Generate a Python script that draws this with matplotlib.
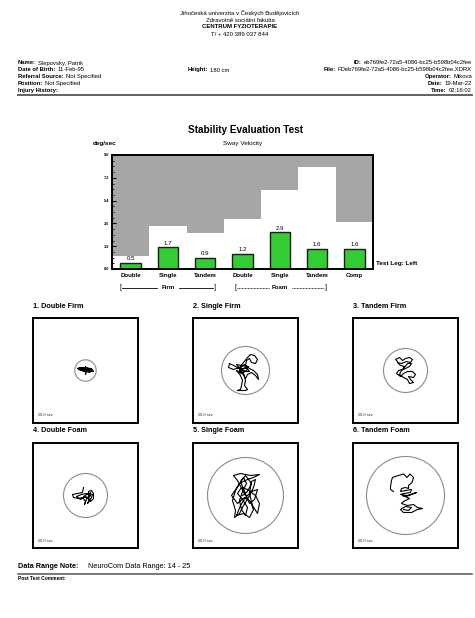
"""
Stability Evaluation Test report page (sway velocity + stabilograms).
"""

import matplotlib
matplotlib.use("Agg")
import matplotlib.pyplot as plt
from matplotlib.patches import Circle
import numpy as np

plt.rcParams["font.family"] = ["Liberation Sans", "DejaVu Sans"]

W, H = 475, 618

# ---- data ----
header_lines = [
    "Jihočeská univerzita v Českých Budějovicích",
    "Zdravotně sociální fakulta",
    "CENTRUM FYZIOTERAPIE",
    "T/ + 420 389 037 844",
]
left_info = [
    ("Name:", "Slepovsky, Patrik"),
    ("Date of Birth:", "11-Feb-95"),
    ("Referral Source:", "Not Specified"),
    ("Position:", "Not Specified"),
    ("Injury History:", ""),
]
right_info = [
    ("ID:", "eb769fe2-72a5-4086-bc25-b598b04c2fee"),
    ("File:", "FDeb769fe2-72a5-4086-bc25-b598b04c2fee.XDRX"),
    ("Operator:", "Mikova"),
    ("Date:", "19-Mar-22"),
    ("Time:", "02:16:02"),
]
height_info = ("Height:", "180 cm")

categories = ["Double", "Single", "Tandem", "Double", "Single", "Tandem", "Comp"]
sway_velocity = [0.5, 1.7, 0.9, 1.2, 2.9, 1.6, 1.6]
norm_limit = [1.03, 3.39, 2.82, 3.92, 6.24, 8.08, 3.71]
y_ticks = [0.0, 1.8, 3.6, 5.4, 7.2, 9.0]

panel_titles = ["1. Double Firm", "2. Single Firm", "3. Tandem Firm",
                "4. Double Foam", "5. Single Foam", "6. Tandem Foam"]
limit_radius = [10.7, 24, 22, 22, 38, 39]

# sway traces (pixel offsets from the circle centre, y up)
trace_1 = [(-8, 2), (-5, 3), (-2, 2), (1, 3), (4, 2), (7, 1), (8, -1), (5, -1), (2, 0),
           (-1, -1), (-4, 0), (-7, 1), (-6, 3), (-3, 1), (0, 2), (3, 0), (6, 0), (4, -2),
           (1, -1), (0, -4), (0, -1), (-3, 0), (-6, 2), (-2, 3), (2, 1), (5, 1), (3, -1),
           (0, 1), (-4, 2), (-7, 2), (-3, 0), (1, 1), (4, 0), (6, 2), (2, 2), (-1, 0),
           (0, 4), (0, 0), (-5, 1)]
trace_2 = [(-3, 0), (-10, 4), (-16, 7), (-17, 3), (-12, 1), (-6, 3), (-2, 8), (2, 13), (5, 16),
           (9, 15), (12, 11), (10, 7), (6, 8), (4, 12), (1, 10), (0, 5), (4, 2), (8, 0), (12, -4),
           (13, -9), (10, -5), (6, -2), (2, -4), (0, -8), (-2, -4), (-6, -2), (-9, 0), (-5, -5),
           (-3, -10), (-4, -15), (-5, -19), (-8, -20), (0, -20), (2, -19), (-1, -15), (0, -10),
           (-2, -3), (-6, 1), (-1, 2), (3, 4), (-4, 5), (-9, 6), (-5, 1), (0, -1), (4, -1),
           (1, 3), (-3, 2), (-7, -1), (-2, -2), (2, 1), (-1, 6), (-5, 3), (-1, -1)]
trace_3 = [(-8, 9), (-10, 11), (-6, 13), (-3, 10), (0, 12), (4, 13), (7, 11), (5, 8), (1, 9),
           (-4, 7), (-8, 8), (-5, 5), (-1, 4), (-3, 1), (-7, 0), (-9, -3), (-5, -6), (-2, -3),
           (2, -1), (7, -1), (10, -4), (8, -7), (3, -6), (5, -9), (8, -12), (4, -13), (2, -9),
           (-2, -7), (-6, -4), (-4, 0), (0, 2), (4, 4), (6, 7), (2, 7), (-2, 2)]
trace_4 = [(-2, 8), (-3, 3), (-8, 2), (-13, 1), (-12, -2), (-7, -3), (-3, -2), (0, -6),
           (-1, -9), (1, -4), (3, -1), (3, 4), (6, 5), (8, 2), (8, -3), (5, -6), (3, -3),
           (5, 0), (1, 2), (-4, 1), (-9, -1), (-5, -4), (0, -1), (4, -4), (2, -8), (6, -2),
           (7, 1), (3, 2), (-2, -1), (2, -3), (5, 3)]
trace_5 = [(0, 0), (-8, 15), (-12, 20), (-5, 22), (5, 20), (14, 21), (8, 18), (2, 16), (-6, 12),
           (-10, 5), (-13, -5), (-10, -15), (-11, -22), (-6, -18), (-2, -10), (3, -2), (8, 8),
           (10, 16), (6, 14), (4, 2), (7, -10), (12, -18), (14, -8), (10, 0), (2, 6), (-4, 8),
           (-8, 2), (-3, -4), (2, -12), (0, -20), (-4, -14), (-6, -5), (-3, 4), (1, 12), (-2, 18),
           (-7, 10), (-14, 0), (-8, -8), (-1, -2), (5, -6), (8, -14), (4, -22), (-2, -18),
           (-9, -20), (-5, -10), (0, -2), (6, 4), (12, 6), (9, -4), (4, -8), (-1, 4), (-5, 14),
           (0, 20), (6, 12), (2, 4), (-3, 0)]
trace_6 = [(-12, 4), (-15, 6), (-15, 9), (-14, 15), (-13, 18), (-7, 20), (-2, 21.5), (1.5, 18),
           (4.5, 21.5), (8, 18), (6.5, 13), (3, 10), (3, 7), (0, 8), (-4, 7), (-5, 4), (0, 5),
           (6, 6), (5, 3), (-2, 2), (-5, 1), (2, 0), (11, 3), (6, 1), (1, -1), (-3, 0), (4, -3),
           (-2, -6), (-4, -8), (2, -10), (8, -9), (12, -12), (17, -13), (12, -14), (6, -17),
           (-2, -17), (-5, -14), (0, -11), (6, -12), (3, -15), (-2, -14)]
traces = [trace_1, trace_2, trace_3, trace_4, trace_5, trace_6]


def fig_rect(x0, y0, x1, y1):
    # pixel box (top-left origin) -> figure fraction rect
    return [x0 / W, 1 - y1 / H, (x1 - x0) / W, (y1 - y0) / H]


fig = plt.figure(figsize=(W / 100, H / 100), dpi=100)

# page overlay in pixel coordinates
bg = fig.add_axes([0, 0, 1, 1])
bg.set_xlim(0, W)
bg.set_ylim(H, 0)
bg.axis("off")

# header
for i, line in enumerate(header_lines):
    bg.text(240, 13 + i * 7, line, ha="center", va="center", fontsize=4.3,
            weight="bold" if i == 2 else "normal")

# patient info
for i, (k, v) in enumerate(left_info):
    t = bg.text(18, 63 + i * 6.8, k, ha="left", va="center", fontsize=4.2, weight="bold")
    if v:
        bg.annotate(v, xy=(1, 0), xycoords=t, xytext=(1.5, 0), textcoords="offset points",
                    ha="left", va="bottom", fontsize=4.2)
t = bg.text(188, 70, height_info[0], ha="left", va="center", fontsize=4.2, weight="bold")
bg.annotate(height_info[1], xy=(1, 0), xycoords=t, xytext=(1.5, 0),
            textcoords="offset points", ha="left", va="bottom", fontsize=4.2)
for i, (k, v) in enumerate(right_info):
    t = bg.text(472, 63 + i * 6.8, v, ha="right", va="center", fontsize=4.2)
    bg.annotate(k, xy=(0, 0), xycoords=t, xytext=(-1.5, 0), textcoords="offset points",
                ha="right", va="bottom", fontsize=4.2, weight="bold")
bg.plot([18, 472], [95, 95], color="#555555", lw=1.3)

# titles
bg.text(245, 130, "Stability Evaluation Test", ha="center", va="center",
        fontsize=7.2, weight="bold")
bg.text(93, 143, "deg/sec", ha="left", va="center", fontsize=4.6, weight="bold")
bg.text(243, 143, "Sway Velocity", ha="center", va="center", fontsize=4.6)
bg.text(376, 264, "Test Leg: Left", ha="left", va="center", fontsize=4.6, weight="bold")

# ---- bar chart ----
ax = fig.add_axes(fig_rect(112, 155, 373, 269))
x = np.arange(len(categories))
ax.bar(x, [9.0 - n for n in norm_limit], bottom=norm_limit, width=1.0,
       color="#a6a6a6", linewidth=0, zorder=1)
ax.bar(x, sway_velocity, width=0.55, color="#33cc33", edgecolor="#1a1a1a",
       linewidth=1.0, zorder=2)
for xi, v in zip(x, sway_velocity):
    ax.text(xi, v + 0.12, f"{v:.1f}", ha="center", va="bottom", fontsize=4.4, zorder=3)
ax.set_xlim(-0.5, len(categories) - 0.5)
ax.set_ylim(0, 9.0)
ax.set_yticks(y_ticks)
ax.set_yticklabels([f"{t:.1f}" for t in y_ticks], fontsize=2.8, weight="bold")
ax.set_yticks(np.arange(0, 9.01, 0.45), minor=True)
ax.tick_params(axis="y", which="major", direction="in", length=3, width=0.8, pad=2)
ax.tick_params(axis="y", which="minor", direction="in", length=1.5, width=0.6)
ax.set_xticks(x)
ax.set_xticklabels(categories, fontsize=4.4, weight="bold")
ax.tick_params(axis="x", length=0, pad=3)
for s in ax.spines.values():
    s.set_linewidth(1.4)
    s.set_color("black")

# Firm / Foam brackets
trans = ax.get_xaxis_transform()
by = -0.165
ax.text(-0.27, by, "[", transform=trans, ha="center", va="center", fontsize=5)
ax.plot([-0.22, 0.7], [by, by], transform=trans, color="black", lw=0.6, clip_on=False)
ax.text(1.0, by, "Firm", transform=trans, ha="center", va="center", fontsize=4.4, weight="bold")
ax.plot([1.3, 2.22], [by, by], transform=trans, color="black", lw=0.6, clip_on=False)
ax.text(2.27, by, "]", transform=trans, ha="center", va="center", fontsize=5)
ax.text(2.8, by, "[", transform=trans, ha="center", va="center", fontsize=5)
ax.plot([2.86, 3.7], [by, by], transform=trans, color="black", lw=0.6, ls=(0, (1, 0.8)),
        clip_on=False)
ax.text(4.0, by, "Foam", transform=trans, ha="center", va="center", fontsize=4.4, weight="bold")
ax.plot([4.32, 5.18], [by, by], transform=trans, color="black", lw=0.6, ls=(0, (1, 0.8)),
        clip_on=False)
ax.text(5.24, by, "]", transform=trans, ha="center", va="center", fontsize=5)

# ---- stabilograms ----
col_x = [33, 193, 353]
row_y = [318, 443]
for i in range(6):
    r, c = divmod(i, 3)
    x0, y0 = col_x[c], row_y[r]
    bg.text(x0, y0 - 12, panel_titles[i], ha="left", va="center", fontsize=5.2, weight="bold")
    pax = fig.add_axes(fig_rect(x0, y0, x0 + 105, y0 + 105))
    pax.set_xlim(-52.5, 52.5)
    pax.set_ylim(-52.5, 52.5)
    pax.set_xticks([])
    pax.set_yticks([])
    for s in pax.spines.values():
        s.set_linewidth(1.4)
    pax.add_patch(Circle((0, 0), limit_radius[i], fill=False, ec="#8c8c8c", lw=0.8))
    tx, ty = zip(*traces[i])
    pax.plot(tx, ty, color="black", lw=0.8, solid_joinstyle="round")
    pax.text(-48, -45, "20.0 sec", ha="left", va="center", fontsize=2.8, color="#222233")

# footer
bg.text(18, 566, "Data Range Note:", ha="left", va="center", fontsize=5.2, weight="bold")
bg.text(88, 566, "NeuroCom Data Range: 14 - 25", ha="left", va="center", fontsize=5.2)
bg.plot([18, 472], [573.5, 573.5], color="#555555", lw=1.1)
bg.text(18, 578.5, "Post Test Comment:", ha="left", va="center", fontsize=3.5, weight="bold")

fig.savefig("out.png", dpi=100)
